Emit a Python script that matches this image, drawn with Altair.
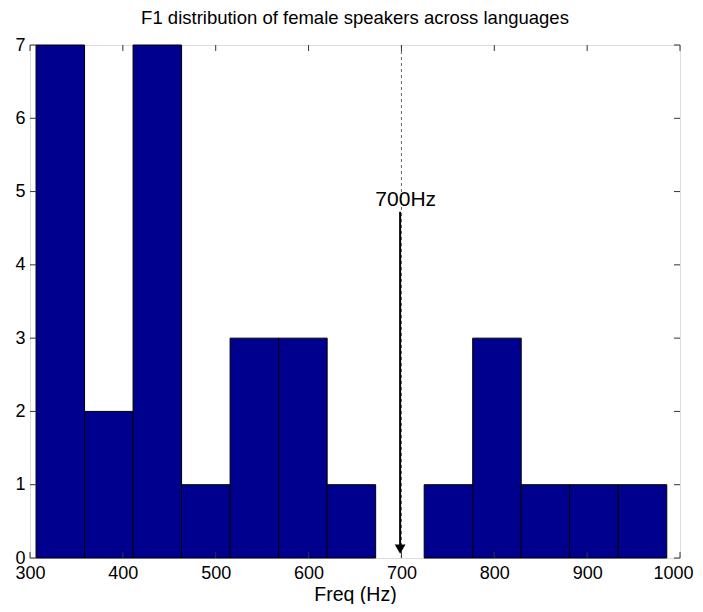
import altair as alt
import pandas as pd

# ---- data ----
bin_start = 306.5
bin_width = 52.25
counts = [7, 2, 7, 1, 3, 3, 1, 0, 1, 3, 1, 1, 1]
x_ticks = [300, 400, 500, 600, 700, 800, 900, 1000]
y_ticks = [0, 1, 2, 3, 4, 5, 6, 7]
ref_line_x = [700]
arrow_x = [698.6]
arrow_top = [4.725]
arrow_head_y = [0.12]
label_x = [704.6]
label_y = [4.80]
label_text = ["700Hz"]

FONT = "Liberation Sans"

bars = pd.DataFrame({
    "lo": [bin_start + i * bin_width for i in range(len(counts))],
    "hi": [bin_start + (i + 1) * bin_width for i in range(len(counts))],
    "count": counts,
})
bars = bars[bars["count"] > 0]

xs = alt.Scale(domain=[300, 1000], nice=False, zero=False)
ys = alt.Scale(domain=[0, 7], nice=False)

xaxis = alt.Axis(values=x_ticks, ticks=False, domain=False, grid=False, format="d",
                 labelFontSize=18, labelFont=FONT, labelColor="black",
                 labelPadding=6, title="Freq (Hz)", titleFont=FONT,
                 titleFontSize=19.5, titleFontWeight="normal", titleColor="black",
                 titlePadding=3, labelFlush=False, labelOverlap=False,
                 labelOffset=alt.condition("datum.value == 1000", alt.value(-7), alt.value(0)))
yaxis = alt.Axis(values=y_ticks, ticks=False, domain=False, grid=False, format="d",
                 labelFontSize=18, labelFont=FONT, labelColor="black",
                 labelPadding=5, title=None, labelFlush=False, labelOverlap=False)

hist = alt.Chart(bars).mark_rect(color="#00008F", stroke="black", strokeWidth=1).encode(
    x=alt.X("lo:Q", scale=xs, axis=xaxis),
    x2="hi:Q",
    y=alt.Y("count:Q", scale=ys, axis=yaxis),
    y2=alt.datum(0),
)

xt = pd.DataFrame({"v": x_ticks})
yt = pd.DataFrame({"v": y_ticks})
tick_style = dict(color="#333333", strokeWidth=1)
xt_bot = alt.Chart(xt).mark_rule(**tick_style).encode(
    x=alt.X("v:Q", scale=xs), y=alt.value(513), y2=alt.value(507))
xt_top = alt.Chart(xt).mark_rule(**tick_style).encode(
    x=alt.X("v:Q", scale=xs), y=alt.value(0), y2=alt.value(6))
yt_left = alt.Chart(yt).mark_rule(**tick_style).encode(
    y=alt.Y("v:Q", scale=ys), x=alt.value(0), x2=alt.value(6))
yt_right = alt.Chart(yt).mark_rule(**tick_style).encode(
    y=alt.Y("v:Q", scale=ys), x=alt.value(650), x2=alt.value(644))

ref = alt.Chart(pd.DataFrame({"x": ref_line_x})).mark_rule(
    color="#666666", strokeDash=[3, 3], strokeWidth=1).encode(x=alt.X("x:Q", scale=xs))

arr = pd.DataFrame({"x": arrow_x, "y": arrow_top, "y2": [0.12], "hy": arrow_head_y,
                    "lx": label_x, "ly": label_y, "t": label_text})
arrow_line = alt.Chart(arr).mark_rule(color="black", strokeWidth=2).encode(
    x=alt.X("x:Q", scale=xs), y=alt.Y("y:Q", scale=ys), y2="y2:Q")
arrow_head = alt.Chart(arr).mark_point(shape="triangle-down", filled=True, color="black",
                                       size=115, opacity=1).encode(
    x=alt.X("x:Q", scale=xs), y=alt.Y("hy:Q", scale=ys))
label = alt.Chart(arr).mark_text(font=FONT, fontSize=21, color="black",
                                 align="center", baseline="alphabetic").encode(
    x=alt.X("lx:Q", scale=xs), y=alt.Y("ly:Q", scale=ys), text="t:N")

chart = alt.layer(hist, ref, xt_bot, xt_top, yt_left, yt_right,
                  arrow_line, arrow_head, label).properties(
    width=650, height=513,
    title=alt.TitleParams("F1 distribution of female speakers across languages",
                          font=FONT, fontSize=18.5, fontWeight="normal",
                          color="black", offset=9, anchor="middle"),
    autosize=alt.AutoSizeParams(type="none"),
    padding={"left": 22, "top": 37, "right": 15, "bottom": 46},
).configure_view(stroke="black", strokeWidth=1).configure(background="white")

chart.save("out.html", embed_options={"renderer": "svg", "actions": False})
